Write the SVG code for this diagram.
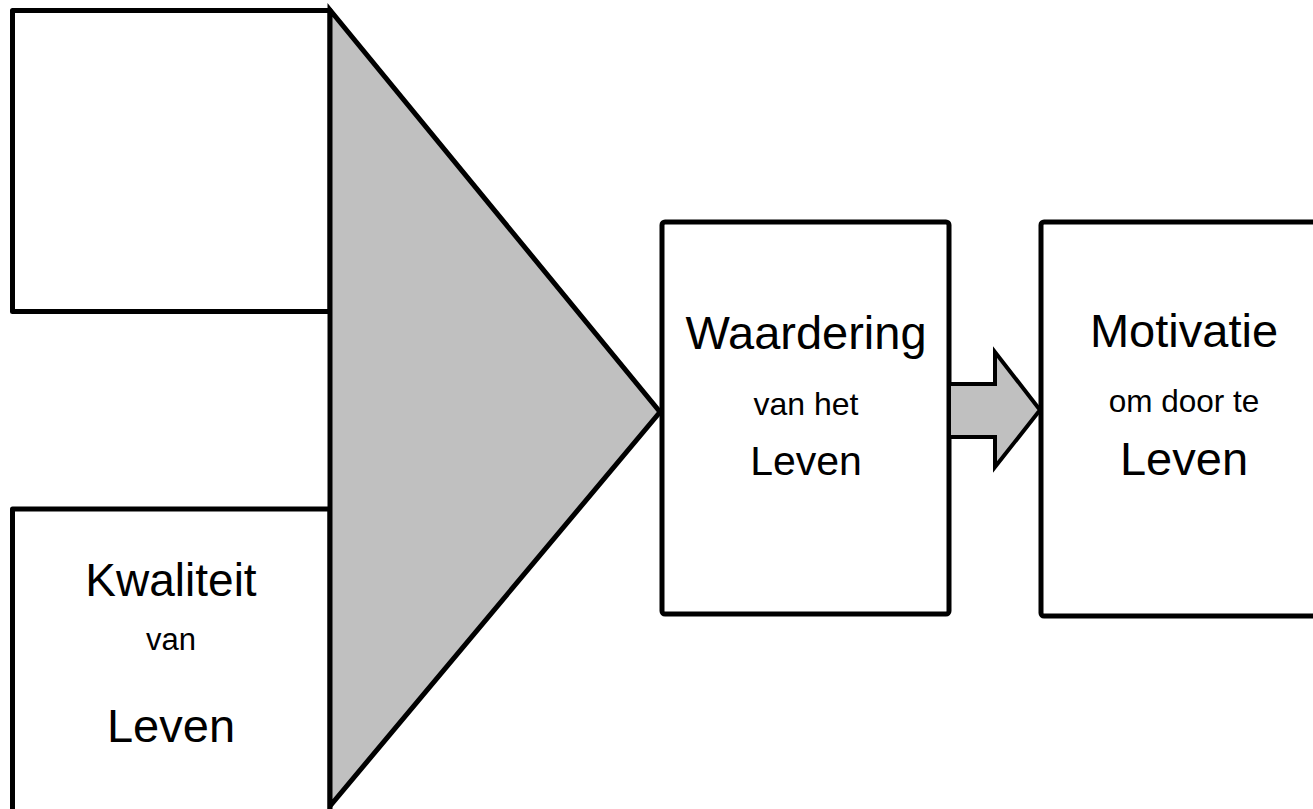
<svg xmlns="http://www.w3.org/2000/svg" width="1313" height="809" viewBox="0 0 1313 809">
<style>
.box{fill:#ffffff;stroke:#000000;stroke-width:5;stroke-linejoin:round}
.shape{fill:#c0c0c0;stroke:#000000;stroke-width:5;stroke-linejoin:miter}
.big{font-family:"Liberation Sans",Arial,sans-serif;font-size:47px;fill:#000000;text-anchor:middle}
.small{font-family:"Liberation Sans",Arial,sans-serif;font-size:31px;fill:#000000;text-anchor:middle}
</style>
<rect width="1313" height="809" fill="#ffffff"/>
<g id="box-top-left">
<rect class="box" x="12.5" y="10.5" width="317.5" height="301"/>
</g>
<g id="box-kwaliteit">
<rect class="box" x="12.5" y="509" width="317.5" height="320"/>
<text class="big" x="171" y="596" style="font-size:46px">Kwaliteit</text>
<text class="small" x="171" y="650">van</text>
<text class="big" x="171" y="742">Leven</text>
</g>
<g id="funnel">
<polygon class="shape" points="330,10 660,412 330,806"/>
</g>
<g id="box-waardering">
<rect class="box" x="662" y="222" width="287" height="392" rx="3"/>
<text class="big" x="806" y="349">Waardering</text>
<text class="small" x="806" y="415" style="font-size:32px">van het</text>
<text class="big" x="806" y="475" style="font-size:41px">Leven</text>
</g>
<g id="box-motivatie">
<rect class="box" x="1041" y="222" width="300" height="394" rx="3"/>
<text class="big" x="1184" y="347">Motivatie</text>
<text class="small" x="1184" y="412" style="font-size:31.5px">om door te</text>
<text class="big" x="1184" y="475">Leven</text>
</g>
<g id="connectors">
<polygon class="shape" style="stroke-width:4" points="949,384 995,384 995,352 1040,410 995,467 995,437 949,437"/>
</g>
</svg>
